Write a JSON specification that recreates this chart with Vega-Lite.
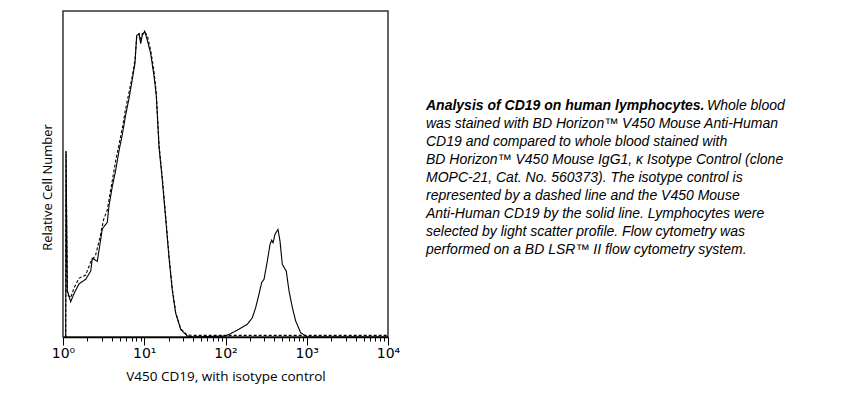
{
  "$schema": "https://vega.github.io/schema/vega-lite/v6.json",
  "background": "white",
  "padding": {"left": 40, "top": 10, "right": 0, "bottom": 0},
  "bounds": "flush",
  "spacing": 38,
  "config": {"view": {"stroke": null}, "font": "Open Sans"},
  "hconcat": [
    {
      "width": 325,
      "height": 326,
      "view": {"stroke": "#333333", "strokeWidth": 1.5},
      "data": {"values": [
        {"x": 1.08, "y": 0, "s": "CD19"}, {"x": 1.089, "y": 57, "s": "CD19"}, {"x": 1.13, "y": 14.3, "s": "CD19"}, {"x": 1.242, "y": 10.8, "s": "CD19"}, {"x": 1.365, "y": 13.3, "s": "CD19"}, {"x": 1.574, "y": 16.3, "s": "CD19"}, {"x": 1.901, "y": 17.7, "s": "CD19"}, {"x": 2.193, "y": 20.2, "s": "CD19"}, {"x": 2.296, "y": 24.2, "s": "CD19"}, {"x": 2.642, "y": 23.2, "s": "CD19"}, {"x": 3.048, "y": 33.2, "s": "CD19"}, {"x": 3.508, "y": 35.2, "s": "CD19"}, {"x": 3.681, "y": 40.2, "s": "CD19"}, {"x": 4.046, "y": 46.2, "s": "CD19"}, {"x": 4.446, "y": 51.1, "s": "CD19"}, {"x": 4.887, "y": 57.1, "s": "CD19"}, {"x": 5.37, "y": 62.1, "s": "CD19"}, {"x": 5.902, "y": 68.1, "s": "CD19"}, {"x": 6.486, "y": 73.1, "s": "CD19"}, {"x": 7.129, "y": 79.1, "s": "CD19"}, {"x": 7.691, "y": 84, "s": "CD19"}, {"x": 8.072, "y": 92.5, "s": "CD19"}, {"x": 8.61, "y": 93, "s": "CD19"}, {"x": 9.036, "y": 90, "s": "CD19"}, {"x": 9.462, "y": 92.5, "s": "CD19"}, {"x": 10.12, "y": 93.8, "s": "CD19"}, {"x": 10.91, "y": 91, "s": "CD19"}, {"x": 11.99, "y": 87, "s": "CD19"}, {"x": 13.18, "y": 80.1, "s": "CD19"}, {"x": 14.06, "y": 74.1, "s": "CD19"}, {"x": 15.21, "y": 58.1, "s": "CD19"}, {"x": 16.67, "y": 48.2, "s": "CD19"}, {"x": 18.37, "y": 36.2, "s": "CD19"}, {"x": 20.18, "y": 24.2, "s": "CD19"}, {"x": 22.13, "y": 14.3, "s": "CD19"}, {"x": 24.38, "y": 7.3, "s": "CD19"}, {"x": 28.12, "y": 2.3, "s": "CD19"}, {"x": 33.88, "y": 0.3, "s": "CD19"}, {"x": 39.8, "y": 0, "s": "CD19"}, {"x": 100.5, "y": 0.3, "s": "CD19"}, {"x": 121.3, "y": 1.3, "s": "CD19"}, {"x": 146.6, "y": 2.4, "s": "CD19"}, {"x": 185.4, "y": 3.9, "s": "CD19"}, {"x": 213.8, "y": 5.9, "s": "CD19"}, {"x": 235, "y": 9, "s": "CD19"}, {"x": 258.2, "y": 13.1, "s": "CD19"}, {"x": 278.6, "y": 16.7, "s": "CD19"}, {"x": 297.9, "y": 17.7, "s": "CD19"}, {"x": 327.3, "y": 23.3, "s": "CD19"}, {"x": 353.2, "y": 28.4, "s": "CD19"}, {"x": 369.8, "y": 29.7, "s": "CD19"}, {"x": 384.6, "y": 28.9, "s": "CD19"}, {"x": 406.4, "y": 31.5, "s": "CD19"}, {"x": 442.6, "y": 33, "s": "CD19"}, {"x": 468.8, "y": 29.4, "s": "CD19"}, {"x": 500, "y": 22.3, "s": "CD19"}, {"x": 559.8, "y": 20.2, "s": "CD19"}, {"x": 605.3, "y": 14.1, "s": "CD19"}, {"x": 665.3, "y": 9, "s": "CD19"}, {"x": 731.1, "y": 4.9, "s": "CD19"}, {"x": 841.4, "y": 1.3, "s": "CD19"}, {"x": 1016, "y": 0, "s": "CD19"}, {"x": 10000, "y": 0, "s": "CD19"},
        {"x": 1.08, "y": 0, "s": "Isotype"}, {"x": 1.089, "y": 57, "s": "Isotype"}, {"x": 1.13, "y": 13, "s": "Isotype"}, {"x": 1.242, "y": 12, "s": "Isotype"}, {"x": 1.365, "y": 15, "s": "Isotype"}, {"x": 1.574, "y": 18, "s": "Isotype"}, {"x": 1.901, "y": 19, "s": "Isotype"}, {"x": 2.193, "y": 23, "s": "Isotype"}, {"x": 2.512, "y": 25, "s": "Isotype"}, {"x": 2.818, "y": 30, "s": "Isotype"}, {"x": 3.162, "y": 36, "s": "Isotype"}, {"x": 3.508, "y": 39, "s": "Isotype"}, {"x": 3.981, "y": 47, "s": "Isotype"}, {"x": 4.446, "y": 54, "s": "Isotype"}, {"x": 4.887, "y": 59, "s": "Isotype"}, {"x": 5.37, "y": 64, "s": "Isotype"}, {"x": 5.902, "y": 70, "s": "Isotype"}, {"x": 6.486, "y": 75, "s": "Isotype"}, {"x": 7.129, "y": 80, "s": "Isotype"}, {"x": 7.691, "y": 85, "s": "Isotype"}, {"x": 8.072, "y": 92, "s": "Isotype"}, {"x": 8.61, "y": 93, "s": "Isotype"}, {"x": 9.036, "y": 91.5, "s": "Isotype"}, {"x": 9.462, "y": 93, "s": "Isotype"}, {"x": 10.12, "y": 93.5, "s": "Isotype"}, {"x": 10.91, "y": 92.5, "s": "Isotype"}, {"x": 11.99, "y": 88, "s": "Isotype"}, {"x": 13.18, "y": 81.5, "s": "Isotype"}, {"x": 14.06, "y": 75, "s": "Isotype"}, {"x": 15.21, "y": 59, "s": "Isotype"}, {"x": 16.67, "y": 49, "s": "Isotype"}, {"x": 18.37, "y": 37, "s": "Isotype"}, {"x": 20.18, "y": 25, "s": "Isotype"}, {"x": 22.13, "y": 15, "s": "Isotype"}, {"x": 24.38, "y": 7.5, "s": "Isotype"}, {"x": 28.12, "y": 2.5, "s": "Isotype"}, {"x": 33.88, "y": 0.6, "s": "Isotype"}, {"x": 39.8, "y": 0.5, "s": "Isotype"}, {"x": 10000, "y": 0.5, "s": "Isotype"}
      ]},
      "mark": {"type": "line", "color": "black", "strokeWidth": 1.1, "clip": true, "interpolate": "linear"},
      "encoding": {
        "x": {
          "field": "x", "type": "quantitative",
          "scale": {"type": "log", "domain": [1, 10000], "nice": false},
          "axis": {
            "title": "V450 CD19, with isotype control",
            "titleFont": "Open Sans", "titleFontSize": 13.5, "titleFontWeight": "normal", "titleColor": "black", "titlePadding": 9,
            "values": [1, 2, 3, 4, 5, 6, 7, 8, 9, 10, 20, 30, 40, 50, 60, 70, 80, 90, 100, 200, 300, 400, 500, 600, 700, 800, 900, 1000, 2000, 3000, 4000, 5000, 6000, 7000, 8000, 9000, 10000],
            "labelExpr": "indexof([1,10,100,1000,10000], datum.value) >= 0 ? '10' + ['⁰','¹','²','³','⁴'][round(log(datum.value)/LN10)] : ''",
            "labelFont": "DejaVu Sans", "labelFontSize": 14, "labelColor": "black", "labelPadding": 1,
            "labelOverlap": false, "labelFlush": false,
            "tickSize": {"condition": {"test": "indexof([1,10,100,1000,10000], datum.value) >= 0", "value": 8}, "value": 4},
            "tickColor": "black", "tickWidth": 1, "domainColor": "black", "domainWidth": 1.5, "grid": false
          }
        },
        "y": {
          "field": "y", "type": "quantitative",
          "scale": {"domain": [0, 100], "nice": false},
          "axis": {"title": "Relative Cell Number", "titleFont": "Open Sans", "titleFontSize": 13, "titleFontWeight": "normal", "titleColor": "black", "titlePadding": 9, "titleY": 176, "labels": false, "ticks": false, "domain": false, "grid": false}
        },
        "detail": {"field": "s"},
        "strokeDash": {"field": "s", "type": "nominal", "scale": {"domain": ["CD19", "Isotype"], "range": [[1, 0], [3, 2]]}, "legend": null}
      }
    },
    {
      "width": 430,
      "height": 326,
      "data": {"values": [
        {"line": 1, "text": "Analysis of CD19 on human lymphocytes.", "kind": "head"},
        {"line": 1, "text": "Whole blood", "kind": "tail"},
        {"line": 2, "text": "was stained with BD Horizon™ V450 Mouse Anti-Human", "kind": "body"},
        {"line": 3, "text": "CD19 and compared to whole blood stained with", "kind": "body"},
        {"line": 4, "text": "BD Horizon™ V450 Mouse IgG1, κ Isotype Control (clone", "kind": "body"},
        {"line": 5, "text": "MOPC-21, Cat. No. 560373). The isotype control is", "kind": "body"},
        {"line": 6, "text": "represented by a dashed line and the V450 Mouse", "kind": "body"},
        {"line": 7, "text": "Anti-Human CD19 by the solid line. Lymphocytes were", "kind": "body"},
        {"line": 8, "text": "selected by light scatter profile. Flow cytometry was", "kind": "body"},
        {"line": 9, "text": "performed on a BD LSR™ II flow cytometry system.", "kind": "body"}
      ]},
      "encoding": {
        "y": {"field": "line", "type": "quantitative", "scale": {"domain": [-4.5, 13.61], "reverse": true, "nice": false, "zero": false}, "axis": null},
        "text": {"field": "text"}
      },
      "layer": [
        {"transform": [{"filter": "datum.kind == 'body'"}],
         "mark": {"type": "text", "x": 0, "align": "left", "baseline": "alphabetic", "font": "Liberation Sans", "fontSize": 14, "fontStyle": "italic", "color": "black"}},
        {"transform": [{"filter": "datum.kind == 'head'"}],
         "mark": {"type": "text", "x": 0, "align": "left", "baseline": "alphabetic", "font": "Liberation Sans", "fontSize": 14, "fontStyle": "italic", "fontWeight": "bold", "color": "black"}},
        {"transform": [{"filter": "datum.kind == 'tail'"}],
         "mark": {"type": "text", "x": 0, "dx": 281, "align": "left", "baseline": "alphabetic", "font": "Liberation Sans", "fontSize": 14, "fontStyle": "italic", "color": "black"}}
      ]
    }
  ]
}
